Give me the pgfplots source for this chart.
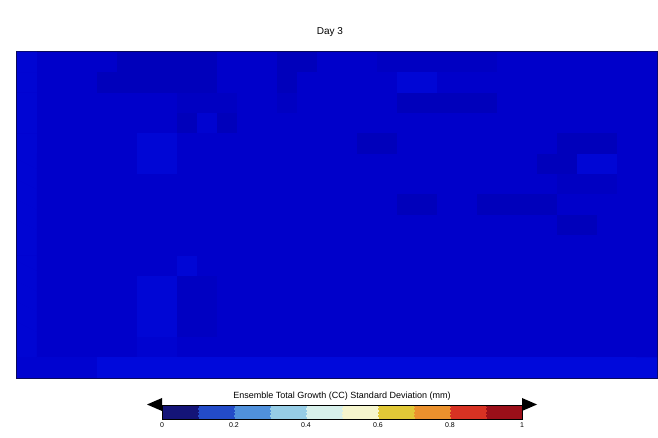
\documentclass[border=0pt]{standalone}
\usepackage{pgfplots}
\pgfplotsset{compat=1.18}
\usepackage{fontspec}
\setmainfont{Liberation Sans}
\definecolor{frame}{RGB}{10,10,90}
\definecolor{basec}{RGB}{0,0,202}
\begin{document}
\begin{tikzpicture}[x=1pt,y=1pt]
\useasboundingbox (0,0) rectangle (658,438);
\begin{axis}[at={(17pt,60pt)}, anchor=south west, scale only axis,
  width=640pt, height=326pt,
  xmin=-0.5, xmax=31.5, ymin=-0.5, ymax=15.5, y dir=reverse,
  xtick=\empty, ytick=\empty,
  axis background/.style={fill=basec},
  axis line style={draw=frame, line width=1.2pt},
  colormap={mapc}{rgb255(0cm)=(0,0,110) rgb255(3cm)=(0,0,172) rgb255(5cm)=(0,0,202) rgb255(7cm)=(0,12,225) rgb255(10cm)=(30,40,250)},
  point meta min=0, point meta max=10]
\addplot[matrix plot*, mesh/cols=32, point meta=explicit]
 table[x expr={mod(\coordindex,32)}, y expr={floor(\coordindex/32)}, meta=v, row sep=\\]{
v\\
5.8\\5\\5\\5\\5\\4\\4\\4\\4\\4\\5\\5\\5\\4\\4\\5\\5\\5\\4.5\\4.5\\4.5\\4.5\\4.5\\4.5\\5\\5\\5\\5\\5\\5\\5\\5\\
5.8\\5\\5\\5\\4\\4\\4\\4\\4\\4\\5\\5\\5\\4\\5\\5\\5\\5\\5\\6\\6\\5\\5\\5\\5\\5\\5\\5\\5\\5\\5\\5\\
5.8\\5\\5\\5\\5\\5\\5\\5\\4.5\\4.5\\4.5\\5\\5\\4.5\\5\\5\\5\\5\\5\\4\\4\\4\\4\\4\\5\\5\\5\\5\\5\\5\\5\\5\\
5.8\\5\\5\\5\\5\\5\\5\\5\\4\\5.5\\4\\5\\5\\5\\5\\5\\5\\5\\5\\5\\5\\5\\5\\5\\5\\5\\5\\5\\5\\5\\5\\5\\
5.8\\5\\5\\5\\5\\5\\6\\6\\5\\5\\5\\5\\5\\5\\5\\5\\5\\4\\4\\5\\5\\5\\5\\5\\5\\5\\5\\4\\4\\4\\5\\5\\
5.8\\5\\5\\5\\5\\5\\6\\6\\5\\5\\5\\5\\5\\5\\5\\5\\5\\5\\5\\5\\5\\5\\5\\5\\5\\5\\4\\4\\6\\6\\5\\5\\
5.8\\5\\5\\5\\5\\5\\5\\5\\5\\5\\5\\5\\5\\5\\5\\5\\5\\5\\5\\5\\5\\5\\5\\5\\5\\5\\5\\4.5\\4.5\\4.5\\5\\5\\
5.8\\5\\5\\5\\5\\5\\5\\5\\5\\5\\5\\5\\5\\5\\5\\5\\5\\5\\5\\4\\4\\5\\5\\4\\4\\4\\4\\5\\5\\5\\5\\5\\
5.8\\5\\5\\5\\5\\5\\5\\5\\5\\5\\5\\5\\5\\5\\5\\5\\5\\5\\5\\5\\5\\5\\5\\5\\5\\5\\5\\4\\4\\5\\5\\5\\
5.8\\5\\5\\5\\5\\5\\5\\5\\5\\5\\5\\5\\5\\5\\5\\5\\5\\5\\5\\5\\5\\5\\5\\5\\5\\5\\5\\5\\5\\5\\5\\5\\
5.8\\5\\5\\5\\5\\5\\5\\5\\6\\5\\5\\5\\5\\5\\5\\5\\5\\5\\5\\5\\5\\5\\5\\5\\5\\5\\5\\5\\5\\5\\5\\5\\
5.8\\5\\5\\5\\5\\5\\6\\6\\4.5\\4.5\\5\\5\\5\\5\\5\\5\\5\\5\\5\\5\\5\\5\\5\\5\\5\\5\\5\\5\\5\\5\\5\\5\\
5.8\\5\\5\\5\\5\\5\\6\\6\\4.5\\4.5\\5\\5\\5\\5\\5\\5\\5\\5\\5\\5\\5\\5\\5\\5\\5\\5\\5\\5\\5\\5\\5\\5\\
5.8\\5\\5\\5\\5\\5\\6\\6\\4.5\\4.5\\5\\5\\5\\5\\5\\5\\5\\5\\5\\5\\5\\5\\5\\5\\5\\5\\5\\5\\5\\5\\5\\5\\
5.8\\5\\5\\5\\5\\5\\5.5\\5.5\\5\\5\\5\\5\\5\\5\\5\\5\\5\\5\\5\\5\\5\\5\\5\\5\\5\\5\\5\\5\\5\\5\\5\\5\\
5.5\\5.5\\5.5\\5.5\\6.5\\6.5\\6.5\\6.5\\6.5\\6.5\\6.5\\6.5\\6.5\\6.5\\6.5\\6.5\\6.5\\6.5\\6.5\\6.5\\6.5\\6.5\\6.5\\6.5\\6.5\\6.5\\6.5\\6.5\\6.5\\6.5\\6.5\\6.5\\
};
\end{axis}
\node[font=\fontsize{10}{12}\selectfont] at (330,406) {Day 3};
\begin{axis}[at={(162pt,27pt)}, anchor=south west, scale only axis,
  width=360pt, height=14pt, hide axis,
  xmin=0, xmax=1, ymin=0, ymax=1,
  point meta min=0, point meta max=1,
  colormap={cbar}{rgb255=(20,20,120) rgb255=(35,75,200) rgb255=(80,145,220) rgb255=(150,205,230) rgb255=(215,240,235) rgb255=(245,245,205) rgb255=(225,200,55) rgb255=(235,145,45) rgb255=(215,50,35) rgb255=(155,15,25)},
  colormap access=piecewise constant,
  colorbar horizontal,
  colorbar style={at={(parent axis.south west)}, anchor=south west,
    scale only axis, width=360pt, height=14pt,
    xtick={0,0.2,0.4,0.6,0.8,1},
    xticklabels={0,0.2,0.4,0.6,0.8,1},
    xticklabel style={font=\fontsize{7}{8}\selectfont},
    major tick length=0pt,
    axis line style={draw=black, line width=0.4pt},
    title={Ensemble Total Growth (CC) Standard Deviation (mm)},
    title style={font=\fontsize{9}{10}\selectfont, yshift=-4pt}}]
\addplot[draw=none] coordinates {(0,0)};
\end{axis}
\fill[black] (162,27) -- (147,33.5) -- (162,40) -- cycle;
\fill[black] (522,27) -- (537,33.5) -- (522,40) -- cycle;
\end{tikzpicture}
\end{document}
